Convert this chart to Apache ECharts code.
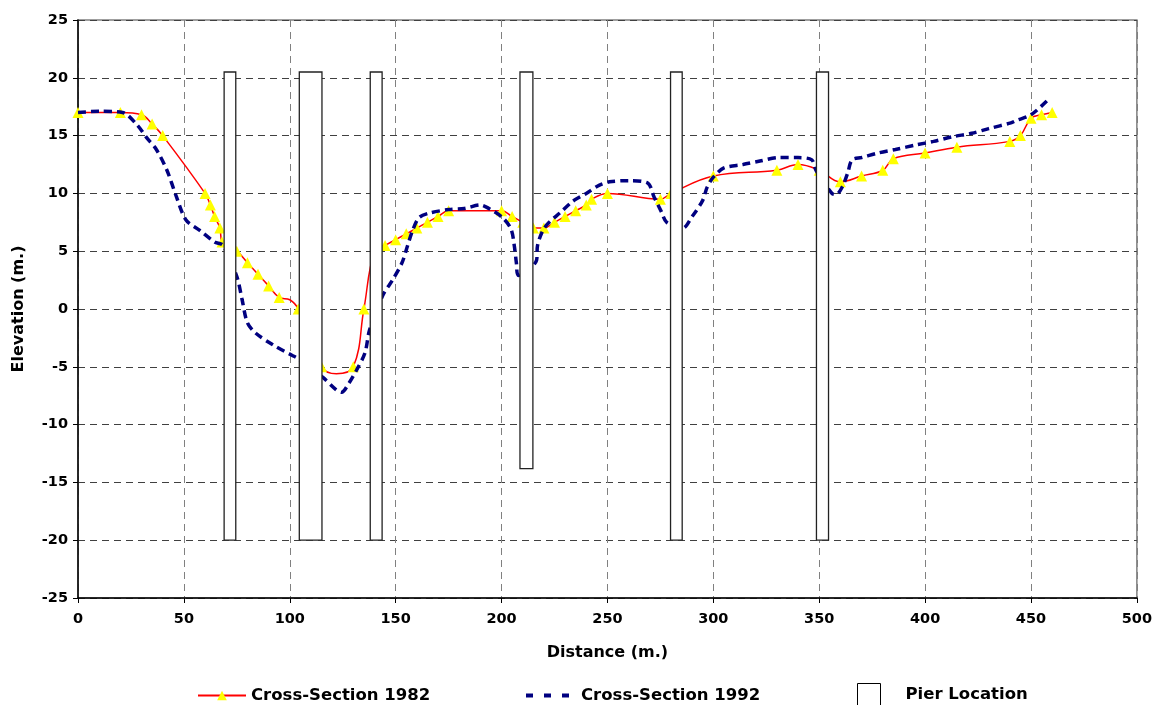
<!DOCTYPE html>
<html>
<head>
<meta charset="utf-8">
<title>Cross-Section</title>
<script src="https://cdn.jsdelivr.net/npm/echarts@6/dist/echarts.min.js"></script>
<style>
  html, body { margin: 0; padding: 0; background: #fff; }
  #chart { width: 1155px; height: 705px; }
</style>
</head>
<body>
<div id="chart"></div>
<script>
// Cross-section 1982 (distance, elevation); mark = 1 where a triangle is plotted
const dist1982 = [0, 20, 30, 35, 40, 60, 62.5, 64.5, 67, 68, 75, 80, 85, 90, 95, 100, 104, 115, 122, 130, 135, 140, 145, 150, 155, 160, 165, 170, 175, 200, 205, 210, 215, 220, 225, 230, 235, 240, 242.5, 250, 275, 280, 300, 330, 340, 350, 360, 370, 380, 385, 400, 415, 440, 445, 450, 455, 460];
const elev1982 = [17, 17, 16.8, 16, 15, 10, 9, 8, 7, 5.8, 5, 4, 3, 2, 1, 0.8, 0, -5, -5.6, -5, 0, 5, 5.5, 6, 6.5, 7, 7.5, 8, 8.5, 8.5, 8, 7.5, 7, 7, 7.5, 8, 8.5, 9, 9.5, 10, 9.5, 10, 11.5, 12, 12.5, 12, 11, 11.5, 12, 13, 13.5, 14, 14.5, 15, 16.5, 16.8, 17];
const mark1982 = [1, 1, 1, 1, 1, 1, 1, 1, 1, 1, 1, 1, 1, 1, 1, 0, 1, 1, 0, 1, 1, 0, 1, 1, 1, 1, 1, 1, 1, 1, 1, 1, 1, 1, 1, 1, 1, 1, 1, 1, 1, 1, 1, 1, 1, 1, 1, 1, 1, 1, 1, 1, 1, 1, 1, 1, 1];

// Cross-section 1992
const dist1992 = [0, 10, 21, 28, 32.5, 37, 42, 46.5, 51, 57.5, 64.5, 68.5, 75, 77.5, 80, 84, 92, 101, 104, 115.5, 122, 124.5, 128, 131.5, 135.5, 137.7, 144, 148.5, 153, 155.5, 158, 161, 166, 175, 182.5, 190, 194, 200.5, 204.5, 206, 207, 208, 216.5, 217, 219.5, 222.5, 227.5, 233.5, 240, 246, 251, 260, 269, 272, 275.5, 278, 285.5, 290, 295, 297, 300, 305, 314, 322, 331, 340, 346.5, 348.5, 356, 358, 361, 363.5, 365.5, 370, 378, 386, 396, 404, 413, 422, 430, 440.5, 443, 450, 457.5];
const elev1992 = [17, 17.1, 17, 15.9, 14.8, 13.8, 12, 9.7, 7.7, 6.8, 5.8, 5.5, 2.8, 0.8, -1.2, -2.1, -3.1, -4, -4.3, -5.9, -7, -7.2, -6.4, -5.3, -3.8, -1.8, 1.2, 2.5, 4, 5.4, 6.8, 7.9, 8.3, 8.6, 8.7, 9, 8.7, 7.9, 6.9, 5.5, 4, 2.9, 4.2, 5.5, 6.8, 7.5, 8.3, 9.3, 10, 10.7, 11, 11.1, 10.9, 9.7, 8.4, 7.5, 7, 8, 9.4, 10.5, 11.4, 12.2, 12.5, 12.8, 13.1, 13.1, 12.9, 12, 10, 9.9, 10.6, 11.8, 12.9, 13.1, 13.5, 13.8, 14.2, 14.5, 14.9, 15.2, 15.6, 16.1, 16.3, 16.8, 18];

// piers: left / right edge, top / bottom elevation
const pierLeft = [69, 104.5, 138, 208.7, 279.8, 348.7];
const pierRight = [74.5, 115.2, 143.6, 214.8, 285.3, 354.4];
const pierTop = [20.5, 20.5, 20.5, 20.5, 20.5, 20.5];
const pierBottom = [-20, -20, -20, -13.8, -20, -20];

const xTicks = [0, 500, 50];   // min, max, interval
const yTicks = [-25, 25, 5];

const FONT = 'DejaVu Sans';

const zip = (a, b) => a.map((v, i) => [v, b[i]]);
const data1982 = dist1982.map((x, i) => ({
  value: [x, elev1982[i]],
  symbol: mark1982[i] ? 'triangle' : 'none',
}));
const pierData = pierLeft.map((l, i) => [l, pierRight[i], pierTop[i], pierBottom[i]]);

const legendText = { fontFamily: FONT, fontWeight: 'bold', fontSize: 16.5, color: '#000' };

const myChart = echarts.init(document.getElementById('chart'));

myChart.setOption({
  animation: false,
  backgroundColor: '#fff',
  grid: {
    left: 78, right: 17, top: 20, bottom: 107,
    show: true,
    borderColor: '#808080',
    borderWidth: 1.5,
  },
  xAxis: {
    type: 'value',
    min: xTicks[0], max: xTicks[1], interval: xTicks[2],
    name: 'Distance (m.)',
    nameLocation: 'middle',
    nameGap: 47,
    nameTextStyle: { fontFamily: FONT, fontWeight: 'bold', fontSize: 16, color: '#000' },
    axisLine: { onZero: false, lineStyle: { color: '#000', width: 1.5 } },
    axisTick: { show: true, inside: false, length: 5, lineStyle: { color: '#000' } },
    axisLabel: { fontFamily: FONT, fontWeight: 'bold', fontSize: 14.5, color: '#000', margin: 14 },
    splitLine: { show: true, lineStyle: { color: '#808080', type: [7, 5], width: 1 } },
  },
  yAxis: {
    type: 'value',
    min: yTicks[0], max: yTicks[1], interval: yTicks[2],
    name: 'Elevation (m.)',
    nameLocation: 'middle',
    nameGap: 51,
    nameTextStyle: { fontFamily: FONT, fontWeight: 'bold', fontSize: 16, color: '#000' },
    axisLine: { show: true, onZero: false, lineStyle: { color: '#000', width: 1.5 } },
    axisTick: { show: true, length: 5, lineStyle: { color: '#000' } },
    axisLabel: { fontFamily: FONT, fontWeight: 'bold', fontSize: 14.5, color: '#000', margin: 10 },
    splitLine: { show: true, lineStyle: { color: '#404040', type: [7, 5], width: 1 } },
  },
  legend: [
    {
      data: ['Cross-Section 1982'],
      left: 192, top: 682,
      itemWidth: 48, itemHeight: 12,
      textStyle: legendText,
    },
    {
      data: ['Cross-Section 1992'],
      left: 519, top: 682,
      itemWidth: 50, itemHeight: 12,
      itemStyle: { opacity: 0 },
      lineStyle: { type: [7, 11], width: 4, cap: 'butt', opacity: 1 },
      textStyle: legendText,
    },
    {
      data: [{ name: 'Pier Location', icon: 'rect' }],
      left: 852, top: 678,
      itemWidth: 23, itemHeight: 22,
      itemStyle: { color: '#fff', borderColor: '#000', borderWidth: 1 },
      textStyle: Object.assign({}, legendText, { padding: [0, 0, 0, 20] }),
    },
  ],
  series: [
    {
      name: 'Cross-Section 1982',
      type: 'line',
      data: data1982,
      smooth: 0.4,
      z: 2,
      symbol: 'triangle',
      symbolSize: 11,
      showAllSymbol: true,
      itemStyle: { color: '#FFFF00', borderWidth: 0 },
      lineStyle: { color: '#FF0000', width: 1.5 },
    },
    {
      name: 'Cross-Section 1992',
      type: 'line',
      data: zip(dist1992, elev1992),
      smooth: 0.3,
      z: 3,
      symbol: 'none',
      itemStyle: { color: '#000080' },
      lineStyle: { color: '#000080', width: 3.5, type: [8, 5], cap: 'butt' },
    },
    {
      name: 'Pier Location',
      type: 'custom',
      z: 5,
      data: pierData,
      encode: { x: [0, 1], y: [2, 3] },
      itemStyle: { color: '#fff', borderColor: '#000' },
      renderItem: (params, api) => {
        const p1 = api.coord([api.value(0), api.value(2)]);
        const p2 = api.coord([api.value(1), api.value(3)]);
        return {
          type: 'rect',
          shape: { x: p1[0], y: p1[1], width: p2[0] - p1[0], height: p2[1] - p1[1] },
          style: { fill: '#fff', stroke: '#222', lineWidth: 1.3 },
        };
      },
    },
  ],
});
</script>
</body>
</html>
